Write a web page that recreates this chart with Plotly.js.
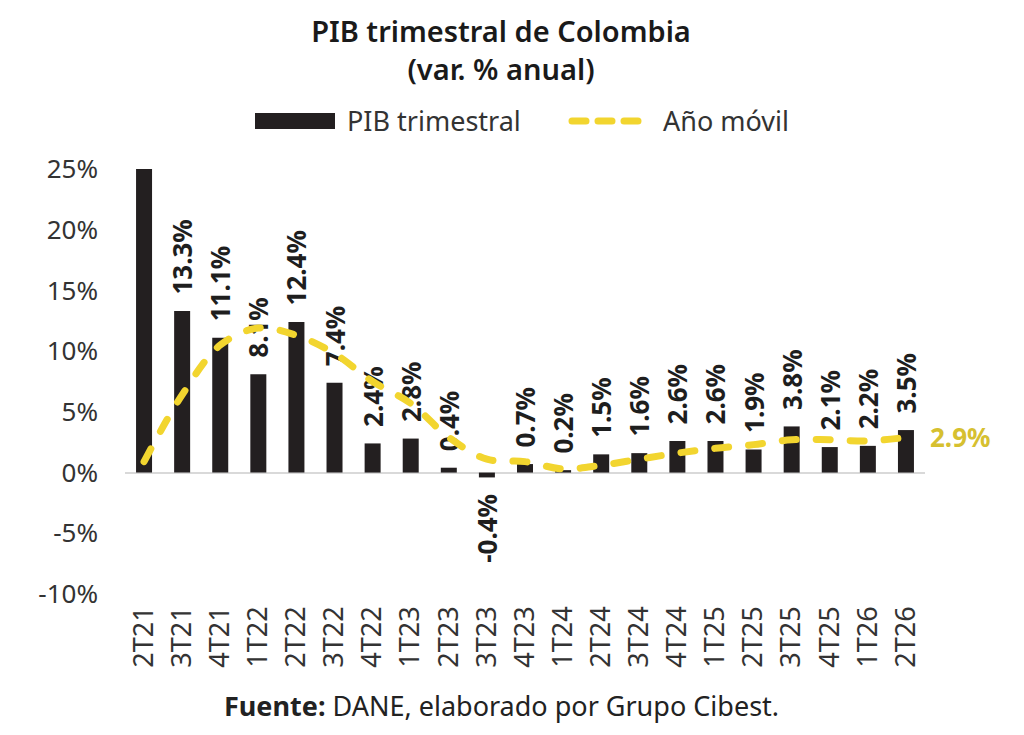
<!DOCTYPE html>
<html>
<head>
<meta charset="utf-8">
<script src="https://cdn.plot.ly/plotly-3.0.1.min.js"></script>
<style>
  html, body { margin: 0; padding: 0; background: #fff; }
  #chart { width: 1024px; height: 735px; }
  /* rounded dash ends like the original */
  .scatterlayer .js-line, .shapelayer path { stroke-linecap: round; }
</style>
</head>
<body>
<div id="chart"></div>
<script>
// Quarters on the x axis
const quarters = ["2T21", "3T21", "4T21", "1T22", "2T22", "3T22", "4T22", "1T23", "2T23", "3T23", "4T23",
                  "1T24", "2T24", "3T24", "4T24", "1T25", "2T25", "3T25", "4T25", "1T26", "2T26"];
// PIB trimestral (var. % anual) - first bar goes off the top of the chart
const pibTrimestral = [25, 13.3, 11.1, 8.1, 12.4, 7.4, 2.4, 2.8, 0.4, -0.4, 0.7,
                       0.2, 1.5, 1.6, 2.6, 2.6, 1.9, 3.8, 2.1, 2.2, 3.5];
// which bars carry a value label
const showLabel = [false, true, true, true, true, true, true, true, true, true, true,
                   true, true, true, true, true, true, true, true, true, true];
// Año móvil
const anioMovil = [0.9, 6.4, 10.5, 11.9, 11.3, 9.8, 7.5, 5.7, 2.9, 1.1, 0.9,
                   0.3, 0.6, 1.1, 1.6, 2.0, 2.3, 2.7, 2.7, 2.6, 2.9];
const yTicks = [-10, -5, 0, 5, 10, 15, 20, 25];
const yTickLabels = ["-10%", "-5%", "0%", "5%", "10%", "15%", "20%", "25%"];

const FONT = "Noto Sans, Open Sans, sans-serif";
const YELLOW = "#f2d52f";
const pad = "\u00a0\u00a0";

// labels sit a little away from the bars
const barText = pibTrimestral.map((v, i) => {
    if (!showLabel[i]) return "";
    const t = v.toFixed(1) + "%";
    return v < 0 ? t + pad : pad + t;
});

let data = [
    {
        type: "bar",
        name: "PIB trimestral",
        x: quarters,
        y: pibTrimestral,
        width: 0.42,
        marker: { color: "#231f20" },
        text: barText,
        textposition: "outside",
        textangle: -90,
        constraintext: "none",
        cliponaxis: false,
        textfont: { family: FONT, size: 26, color: "#1e1e1e", weight: 700 },
        hoverinfo: "x+y",
        showlegend: false
    },
    {
        type: "scatter",
        mode: "lines",
        name: "Año móvil",
        x: quarters,
        y: anioMovil,
        line: { color: YELLOW, width: 7, dash: "14px,20px", shape: "spline", smoothing: 1 },
        cliponaxis: false,
        showlegend: false
    }
];

// paper coords helpers for the hand-made legend (plot area 125..925 x 169..594)
const px = v => (v - 125) / 800;
const py = v => (594 - v) / 425;

let layout = {
    width: 1024,
    height: 735,
    paper_bgcolor: "#ffffff",
    plot_bgcolor: "#ffffff",
    margin: { t: 169, b: 141, l: 125, r: 99 },
    font: { family: FONT, color: "#333333" },
    title: {
        text: "PIB trimestral de Colombia<br>(var. % anual)",
        font: { family: FONT, size: 29, color: "#1a1a1a", weight: 600 },
        x: 501 / 1024,
        xanchor: "center",
        y: 1 - 42 / 735,
        yanchor: "top",
        yref: "container"
    },
    bargap: 0.5,
    xaxis: {
        type: "category",
        range: [-0.5, quarters.length - 0.5],
        autorange: false,
        tickangle: -90,
        tickfont: { family: FONT, size: 27, color: "#333333" },
        showgrid: false,
        showline: false,
        ticks: "",
        ticklabelstandoff: 6
    },
    yaxis: {
        range: [-10, 25],
        autorange: false,
        tickmode: "array",
        tickvals: yTicks,
        ticktext: yTickLabels,
        tickfont: { family: FONT, size: 26, color: "#333333" },
        showgrid: false,
        showline: false,
        zeroline: true,
        zerolinecolor: "#d9d9d9",
        zerolinewidth: 2,
        ticks: "",
        ticklabelstandoff: 26
    },
    shapes: [
        { type: "rect", xref: "paper", yref: "paper",
          x0: px(255), x1: px(335), y0: py(129), y1: py(113),
          fillcolor: "#231f20", line: { width: 0 } },
        { type: "line", xref: "paper", yref: "paper",
          x0: px(572), x1: px(646), y0: py(121), y1: py(121),
          line: { color: YELLOW, width: 7, dash: "14px,12px" } }
    ],
    annotations: [
        { xref: "paper", yref: "paper", x: px(345), y: py(121), xanchor: "left", yanchor: "middle",
          text: "PIB trimestral", showarrow: false,
          font: { family: FONT, size: 27, color: "#333333" } },
        { xref: "paper", yref: "paper", x: px(661), y: py(121), xanchor: "left", yanchor: "middle",
          text: "Año móvil", showarrow: false,
          font: { family: FONT, size: 27, color: "#333333" } },
        { x: quarters[quarters.length - 1], y: anioMovil[anioMovil.length - 1],
          xanchor: "left", yanchor: "middle", xshift: 22,
          text: anioMovil[anioMovil.length - 1].toFixed(1) + "%", showarrow: false,
          font: { family: FONT, size: 26, color: "#d6c030", weight: 700 } },
        { xref: "paper", yref: "paper", x: px(501), y: py(705), xanchor: "center", yanchor: "middle",
          text: "<b>Fuente:</b> DANE, elaborado por Grupo Cibest.", showarrow: false,
          font: { family: FONT, size: 27, color: "#222222" } }
    ]
};

Plotly.newPlot("chart", data, layout, { displayModeBar: false, staticPlot: true });
</script>
</body>
</html>
